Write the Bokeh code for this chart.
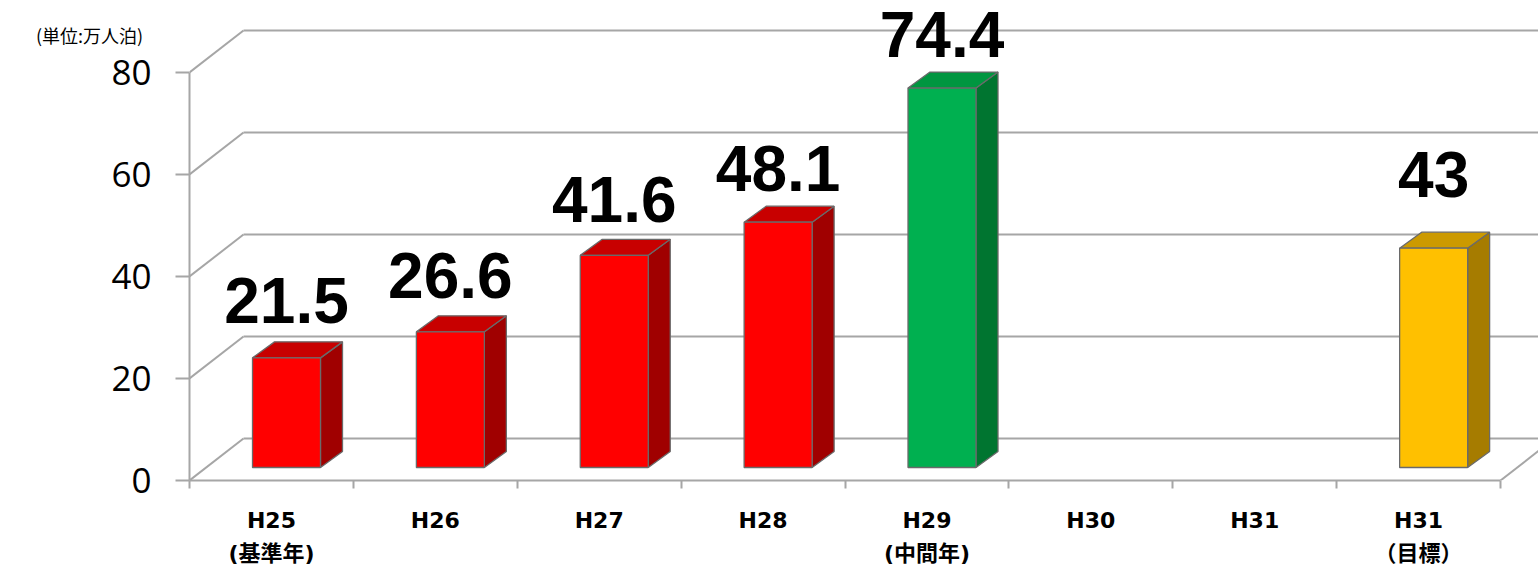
from bokeh.plotting import figure
from bokeh.models import Range1d, LinearAxis, FixedTicker, Label
from bokeh.core.properties import value
from bokeh.embed import file_html
from bokeh.resources import INLINE

# ---- data ----
categories = ["H25", "H26", "H27", "H28", "H29", "H30", "H31", "H31"]
sublabels = ["(基準年)", "", "", "", "(中間年)", "", "", "（目標）"]
values = [21.5, 26.6, 41.6, 48.1, 74.4, None, None, 43.0]
y_ticks = [0, 20, 40, 60, 80]
unit_label = "(単位:万人泊)"

# ---- styles ----
front_colors = ["#FF0000", "#FF0000", "#FF0000", "#FF0000", "#00B050", None, None, "#FFC000"]
top_colors = ["#C80000", "#C80000", "#C80000", "#C80000", "#009640", None, None, "#CC9A00"]
side_colors = ["#A00000", "#A00000", "#A00000", "#A00000", "#007530", None, None, "#A67C00"]
label_gap_px = [32, 31, 30, 28, 28, 0, 0, 48]
TEXT_SHIFT_PX = 25.5
GRID = "#A6A6A6"
EDGE = "#6A6A6A"

W, H = 1538, 569
BL, BB = 189, 89
PX_X = 163.875
PX_Y = 5.1
x_end = (W - BL) / PX_X
y_end = (H - BB) / PX_Y

BX, BY = 54 / PX_X, 42 / PX_Y          # back-wall depth offset
OFF_X, BW = 63 / PX_X, 68 / PX_X        # bar front-face position/width in category
BASE = 13 / PX_Y                        # bar front base above floor front edge
DX, DY = 22 / PX_X, 16 / PX_Y           # bar depth

p = figure(width=W, height=H, x_range=Range1d(0, x_end), y_range=Range1d(0, y_end),
           output_backend="svg", toolbar_location=None,
           x_axis_type=None, y_axis_type=None,
           min_border_left=BL, min_border_right=0, min_border_top=0, min_border_bottom=BB)
p.outline_line_color = None
p.xgrid.visible = False
p.ygrid.visible = False
p.background_fill_color = "white"

# walls / gridlines
gx0 = [0.0 for _ in y_ticks]
gy0 = [float(v) for v in y_ticks]
gx1 = [BX for _ in y_ticks]
gy1 = [v + BY for v in y_ticks]
p.segment(gx0, gy0, gx1, gy1, line_color=GRID, line_width=2)
p.segment(gx1, gy1, [x_end + 1 for _ in y_ticks], gy1, line_color=GRID, line_width=2)
n = len(categories)
p.segment([float(n)], [0.0], [n + BX], [BY], line_color=GRID, line_width=2)

# bars
fx, fy, tx, ty, sx, sy = [], [], [], [], [], []
fc, tc, sc = [], [], []
lx, ly, lt = [], [], []
for i, v in enumerate(values):
    if v is None:
        continue
    L = i + OFF_X
    R = L + BW
    B = BASE
    T = BASE + v
    fx.append([L, R, R, L]); fy.append([B, B, T, T]); fc.append(front_colors[i])
    tx.append([L, R, R + DX, L + DX]); ty.append([T, T, T + DY, T + DY]); tc.append(top_colors[i])
    sx.append([R, R + DX, R + DX, R]); sy.append([B, B + DY, T + DY, T]); sc.append(side_colors[i])
    lx.append(L + BW / 2)
    ly.append(T + (label_gap_px[i] + TEXT_SHIFT_PX) / PX_Y)
    lt.append(f"{v:g}")

p.patches(sx, sy, fill_color=sc, line_color=EDGE, line_width=1.3)
p.patches(tx, ty, fill_color=tc, line_color=EDGE, line_width=1.3)
p.patches(fx, fy, fill_color=fc, line_color=EDGE, line_width=1.3)

p.text(x=lx, y=ly, text=lt, text_font=value("Liberation Sans"), text_font_style="bold",
       text_font_size="64px", text_align="center", text_baseline="alphabetic", text_color="black")

# y axis
yax = LinearAxis(ticker=FixedTicker(ticks=y_ticks), bounds=(0, 80))
yax.axis_line_color = GRID
yax.axis_line_width = 2
yax.major_tick_line_color = GRID
yax.major_tick_line_width = 2
yax.major_tick_out = 14
yax.major_tick_in = 0
yax.minor_tick_line_color = None
yax.major_label_text_font = "Open Sans"
yax.major_label_text_font_size = "35px"
yax.major_label_text_color = "black"
yax.major_label_standoff = 24
p.add_layout(yax, "left")

# x axis
centers = [i + 0.5 for i in range(n)]
bounds_ticks = [float(i) for i in range(n + 1)]
overrides = {}
for c, a, b in zip(centers, categories, sublabels):
    overrides[c] = a + ("\n" + b if b else "")
xax = LinearAxis(ticker=FixedTicker(ticks=centers, minor_ticks=bounds_ticks), bounds=(0, n))
xax.major_label_overrides = overrides
xax.axis_line_color = GRID
xax.axis_line_width = 2
xax.major_tick_line_color = None
xax.major_tick_out = 0
xax.major_tick_in = 0
xax.minor_tick_line_color = GRID
xax.minor_tick_line_width = 2
xax.minor_tick_out = 8
xax.minor_tick_in = 0
xax.major_label_text_font = "DejaVu Sans, Noto Sans CJK JP"
xax.major_label_text_font_style = "bold"
xax.major_label_text_font_size = "22px"
xax.major_label_text_line_height = 1.35
xax.major_label_text_color = "black"
xax.major_label_standoff = 19
p.add_layout(xax, "below")

# unit label in the left side panel (side-panel annotations are not clipped to the frame)
p.add_layout(Label(x=88, y=(H - BB) - 34, x_units="screen", y_units="screen",
                   text=unit_label, text_font="Noto Sans CJK JP", text_font_size="18px",
                   text_baseline="middle", text_align="center", text_color="black"), "left")

open("out.html", "w").write(file_html(p, INLINE))
